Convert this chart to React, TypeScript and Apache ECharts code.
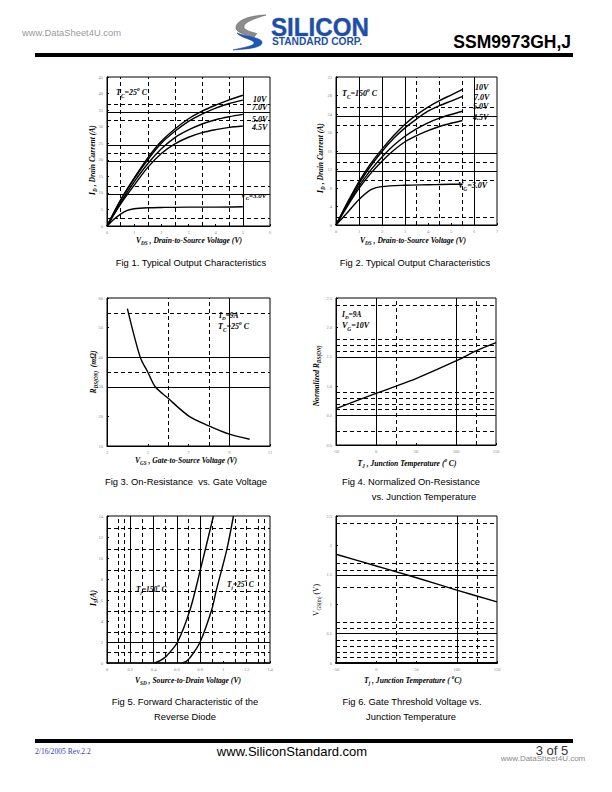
import React, { useEffect, useRef } from "react";
import * as echarts from "echarts";

// ---------- Fig 1 : Typical output characteristics, Tc = 25 C ----------
const fig1Vds = [0, 0.5, 1, 1.5, 2, 2.5, 3, 3.5, 4, 4.5, 5];
const fig1Id10V = [0, 7.9, 14.5, 20.6, 25.6, 29.3, 32.4, 34.7, 36.5, 38.1, 39.5];
const fig1Id7V = [0, 7.7, 14.2, 20.0, 25.0, 28.6, 31.6, 33.8, 35.6, 37.0, 38.0];
const fig1Id5V = [0, 7.0, 13.3, 18.8, 23.3, 26.7, 29.0, 30.8, 32.1, 33.0, 33.7];
const fig1Id45V = [0, 6.6, 12.3, 17.7, 21.9, 24.8, 26.8, 28.2, 29.1, 29.8, 30.2];
const fig1Vds3V = [0, 0.25, 0.5, 0.75, 1, 1.5, 2, 3, 4, 5];
const fig1Id3V = [0, 2.0, 3.6, 4.7, 5.2, 5.5, 5.6, 5.7, 5.7, 5.8];
const fig1SolidX = [5];
const fig1DashedX = [0.5, 1.5, 2.5, 3.5, 4.5];
const fig1SolidY = [9.6, 19.6, 24.5, 34.4];
const fig1DashedY = [2.2, 12.1, 21.9, 31.9, 36.7];

// ---------- Fig 2 : Typical output characteristics, Tc = 150 C ----------
const fig2Vds = [0, 0.5, 1, 1.5, 2, 2.5, 3, 3.5, 4, 4.5, 5, 5.5];
const fig2Id10V = [0, 4.9, 9.4, 13.2, 16.4, 19.3, 21.8, 23.8, 25.5, 26.9, 28.1, 29.3];
const fig2Id7V = [0, 4.7, 9.0, 12.7, 15.9, 18.7, 21.0, 22.9, 24.6, 25.8, 26.8, 27.8];
const fig2Id5V = [0, 4.4, 8.4, 11.8, 14.7, 17.2, 19.2, 20.8, 22.1, 23.1, 23.9, 24.6];
const fig2Id45V = [0, 4.1, 7.9, 11.1, 13.8, 16.1, 18.0, 19.3, 20.4, 21.3, 22.0, 22.6];
const fig2Vds3V = [0, 0.5, 1, 1.5, 2, 3, 4, 5, 5.5];
const fig2Id3V = [0, 2.7, 5.5, 7.6, 8.3, 8.6, 8.7, 8.8, 8.8];
const fig2SolidX = [1, 2, 3, 6];
const fig2DashedX = [3.5, 4.5, 5.5];
const fig2SolidY = [11.7, 15.6, 23.6];
const fig2DashedY = [1.7, 9.7, 13.6, 21.5, 25.5];

// ---------- Fig 3 : On-resistance vs gate voltage ----------
const fig3Vgs = [4, 4.63, 5, 5.37, 6, 7, 8, 9, 10];
const fig3Rds = [56.4, 40, 35, 30, 26.1, 20.2, 16.8, 14.0, 12.3];
const fig3SolidX = [9];
const fig3DashedX = [6, 8];
const fig3SolidY = [30, 40];
const fig3DashedY = [35, 55];

// ---------- Fig 4 : Normalized RDS(ON) vs junction temperature ----------
const fig4Tj = [-50, 0, 25, 50, 100, 125, 150];
const fig4Rn = [0.62, 0.877, 1.0, 1.13, 1.43, 1.6, 1.74];
const fig4SolidX = [0, 100];
const fig4DashedX = [25, 125];
const fig4SolidY = [0.5, 1.5];
const fig4DashedY = [0.23, 0.6, 0.7, 0.8, 0.9, 1.6, 1.7, 1.8, 2.38];

// ---------- Fig 5 : Forward characteristic of reverse diode ----------
const fig5Vsd150 = [0.41, 0.46, 0.514, 0.606, 0.714, 0.8, 0.914];
const fig5Is150 = [0, 0.25, 0.7, 2, 5.1, 8.8, 14];
const fig5Vsd25 = [0.643, 0.68, 0.72, 0.8, 0.9, 0.937, 1.03, 1.086];
const fig5Is25 = [0, 0.15, 0.6, 2, 5.1, 6.84, 10.85, 14];
const fig5SolidX = [0.2, 0.4, 0.6, 0.8];
const fig5DashedX = [0.1, 0.15, 0.3, 0.5, 0.7, 0.9, 1.1, 1.2, 1.3, 1.35];
const fig5SolidY = [2];
const fig5DashedY = [1, 2.9, 4.9, 6.85, 8.85, 10.85, 12.8];

// ---------- Fig 6 : Gate threshold voltage vs junction temperature ----------
const fig6Tj = [-50, 0, 25, 50, 100, 150];
const fig6Vth = [1.85, 1.65, 1.55, 1.45, 1.24, 1.04];
const fig6SolidX = [100];
const fig6DashedX = [25, 125];
const fig6SolidY = [0.5, 1.5];
const fig6DashedY = [0.1, 0.19, 0.28, 0.38, 0.59, 0.69, 1.28, 1.58, 1.69, 2.38];

// ---------- axes (min, max, interval) ----------
const fig1XAxis = [0, 6, 1];
const fig1YAxis = [0, 45, 5];
const fig2XAxis = [0, 7, 1];
const fig2YAxis = [0, 32, 4];
const fig3XAxis = [3, 11, 2];
const fig3YAxis = [10, 60, 10];
const fig4XAxis = [-50, 150, 50];
const fig4YAxis = [0, 2.5, 0.5];
const fig5XAxis = [0, 1.4, 0.2];
const fig5YAxis = [0, 14, 2];
const fig6XAxis = [-50, 150, 50];
const fig6YAxis = [0, 2.5, 0.5];

const SERIF = "Liberation Serif";
const SANS = "Liberation Sans";

const LOGO_GRAY =
  "M34 1 C22 1 5 5 4 13 C3 18 13 21 22 23 L25 19.5 C17 17.5 11 15.5 12 12 C13 8 24 4 34 1 Z";
const LOGO_BLUE =
  "M5 19 C14 23 31 23 30 29 C29 34 15 35 1 36 C12 33 23 32 22 28.5 C21 25.5 9 24 5 19 Z";

let shapesRegistered = false;
function registerShapes() {
  if (shapesRegistered) return;
  echarts.graphic.registerShape("logoGray", (echarts.graphic as any).extendPath(LOGO_GRAY, {}));
  echarts.graphic.registerShape("logoBlue", (echarts.graphic as any).extendPath(LOGO_BLUE, {}));
  shapesRegistered = true;
}

function pairs(xs: number[], ys: number[]) {
  return xs.map((x, i) => [x, ys[i]]);
}

function gridLines(sx: number[], dx: number[], sy: number[], dy: number[]) {
  const data: any[] = [];
  sx.forEach((v) => data.push({ xAxis: v, lineStyle: { type: "solid" } }));
  dx.forEach((v) => data.push({ xAxis: v, lineStyle: { type: [4, 3] } }));
  sy.forEach((v) => data.push({ yAxis: v, lineStyle: { type: "solid" } }));
  dy.forEach((v) => data.push({ yAxis: v, lineStyle: { type: [4, 3] } }));
  return {
    silent: true,
    symbol: ["none", "none"],
    label: { show: false },
    lineStyle: { color: "#000", width: 1 },
    emphasis: { disabled: true },
    data,
  };
}

function curve(idx: number, xs: number[], ys: number[], mark?: any, smooth: any = 0.3) {
  const s: any = {
    type: "line",
    xAxisIndex: idx,
    yAxisIndex: idx,
    data: pairs(xs, ys),
    smooth,
    showSymbol: false,
    symbol: "none",
    lineStyle: { color: "#000", width: 1.4 },
    z: 5,
  };
  if (mark) s.markLine = mark;
  return s;
}

function axis(idx: number, cfg: number[], fmt?: (v: number) => string, width = 1) {
  return {
    gridIndex: idx,
    type: "value",
    min: cfg[0],
    max: cfg[1],
    interval: cfg[2],
    axisLine: { show: true, onZero: false, lineStyle: { color: "#000", width } },
    axisTick: { show: true, inside: true, length: 2, lineStyle: { color: "#000" } },
    axisLabel: {
      fontSize: 4.5,
      color: "#888",
      margin: 4,
      fontFamily: SERIF,
      formatter: fmt,
    },
    splitLine: { show: false },
  };
}

function txt(text: string, x: number, y: number, size: number, o: any = {}) {
  const fam = o.family || SERIF;
  const weight = o.weight || "bold";
  const fstyle = o.italic === false ? "normal" : "italic";
  const fill = o.color || "#000";
  const lh = size * 1.5;
  return {
    type: "text",
    x,
    y,
    rotation: o.rot || 0,
    scaleX: o.scaleX || 1,
    silent: true,
    z: 20,
    style: {
      text,
      fill,
      fontSize: size,
      fontFamily: fam,
      fontWeight: weight,
      fontStyle: fstyle,
      align: o.align || "left",
      verticalAlign: "middle",
      lineHeight: lh,
      rich: {
        s: {
          fontSize: size * 0.68,
          fontFamily: fam,
          fontWeight: weight,
          fontStyle: fstyle,
          fill,
          verticalAlign: "bottom",
          lineHeight: lh,
        },
        p: {
          fontSize: size * 0.68,
          fontFamily: fam,
          fontWeight: weight,
          fontStyle: fstyle,
          fill,
          verticalAlign: "top",
          lineHeight: lh,
        },
      },
    },
  };
}

function caption(text: string, x: number, y: number) {
  return txt(text, x, y, 9.4, { family: SANS, weight: "normal", italic: false, align: "center" });
}

const AT = 7.6; // axis title size
const AN = 8; // annotation size

export default function App() {
  const ref = useRef<HTMLDivElement>(null);

  useEffect(() => {
    if (!ref.current) return;
    registerShapes();
    const chart = echarts.init(ref.current, null, { renderer: "svg" });

    const grids = [
      { left: 107, top: 77, width: 163, height: 149 },
      { left: 336, top: 77, width: 161, height: 148 },
      { left: 107, top: 298, width: 163, height: 148 },
      { left: 336, top: 298, width: 160, height: 147 },
      { left: 107, top: 516, width: 163, height: 147 },
      { left: 336, top: 516, width: 161, height: 147 },
    ].map((g) => ({
      ...g,
      show: true,
      borderColor: "#000",
      borderWidth: 1,
      backgroundColor: "transparent",
      containLabel: false,
      outerBoundsMode: "none",
    }));

    const fix1 = (v: number) => v.toFixed(1);

    const xAxis = [
      axis(0, fig1XAxis),
      axis(1, fig2XAxis),
      axis(2, fig3XAxis),
      axis(3, fig4XAxis),
      axis(4, fig5XAxis, (v: number) => String(Math.round(v * 10) / 10), 1.5),
      axis(5, fig6XAxis, undefined, 2),
    ];
    const yAxis = [
      axis(0, fig1YAxis),
      axis(1, fig2YAxis),
      axis(2, fig3YAxis),
      axis(3, fig4YAxis, fix1),
      axis(4, fig5YAxis),
      axis(5, fig6YAxis, (v: number) => String(Math.round(v * 10) / 10)),
    ];

    const series = [
      curve(0, fig1Vds, fig1Id10V, gridLines(fig1SolidX, fig1DashedX, fig1SolidY, fig1DashedY)),
      curve(0, fig1Vds, fig1Id7V),
      curve(0, fig1Vds, fig1Id5V),
      curve(0, fig1Vds, fig1Id45V),
      curve(0, fig1Vds3V, fig1Id3V),
      curve(1, fig2Vds, fig2Id10V, gridLines(fig2SolidX, fig2DashedX, fig2SolidY, fig2DashedY)),
      curve(1, fig2Vds, fig2Id7V),
      curve(1, fig2Vds, fig2Id5V),
      curve(1, fig2Vds, fig2Id45V),
      curve(1, fig2Vds3V, fig2Id3V),
      curve(2, fig3Vgs, fig3Rds, gridLines(fig3SolidX, fig3DashedX, fig3SolidY, fig3DashedY)),
      curve(3, fig4Tj, fig4Rn, gridLines(fig4SolidX, fig4DashedX, fig4SolidY, fig4DashedY)),
      curve(4, fig5Vsd150, fig5Is150, gridLines(fig5SolidX, fig5DashedX, fig5SolidY, fig5DashedY)),
      curve(4, fig5Vsd25, fig5Is25),
      curve(5, fig6Tj, fig6Vth, gridLines(fig6SolidX, fig6DashedX, fig6SolidY, fig6DashedY)),
    ];

    const graphic: any[] = [
      // header
      txt("www.DataSheet4U.com", 22, 32, 9.4, { family: SANS, weight: "normal", italic: false, color: "#9a9a9a" }),
      {
        type: "logoGray",
        x: 232,
        y: 14,
        silent: true,
        style: { fill: "#8c8c8c", stroke: "#5a5a5a", lineWidth: 0.5 },
      },
      {
        type: "logoBlue",
        x: 232,
        y: 14,
        silent: true,
        style: { fill: "#1d57b8", stroke: "#123f8c", lineWidth: 0.5 },
      },
      {
        type: "text",
        x: 271,
        y: 27,
        scaleX: 0.93,
        silent: true,
        style: {
          text: "SILICON",
          fill: "#1d4fa6",
          stroke: "#7d93c4",
          lineWidth: 0.6,
          fontSize: 26,
          fontFamily: SANS,
          fontWeight: "bold",
          align: "left",
          verticalAlign: "middle",
        },
      },
      txt("STANDARD CORP.", 272, 41, 10.2, { family: SANS, weight: "bold", italic: false, color: "#1d4fa6" }),
      txt("SSM9973GH,J", 571, 42, 17.5, { family: SANS, weight: "bold", italic: false, align: "right" }),
      { type: "rect", silent: true, shape: { x: 35, y: 53, width: 538, height: 4 }, style: { fill: "#000" } },

      // footer
      { type: "rect", silent: true, shape: { x: 35, y: 739, width: 538, height: 4 }, style: { fill: "#000" } },
      txt("2/16/2005 Rev.2.2", 35, 751, 7.6, { family: SERIF, weight: "normal", italic: false, color: "#3a3ab8" }),
      txt("www.SiliconStandard.com", 292, 751, 13, { family: SANS, weight: "normal", italic: false, align: "center" }),
      txt("3 of 5", 552, 750, 13, { family: SANS, weight: "normal", italic: false, align: "center", color: "#333" }),
      txt("www.DataSheet4U.com", 543, 758, 8, { family: SANS, weight: "normal", italic: false, align: "center", color: "#8a8a8a" }),

      // captions
      caption("Fig 1. Typical Output Characteristics", 191, 262),
      caption("Fig 2. Typical Output Characteristics", 415, 262),
      caption("Fig 3. On-Resistance  vs. Gate Voltage", 186, 481),
      caption("Fig 4. Normalized On-Resistance", 411, 481),
      caption("vs. Junction Temperature", 424, 496),
      caption("Fig 5. Forward Characteristic of the", 185, 701),
      caption("Reverse Diode", 185, 716),
      caption("Fig 6. Gate Threshold Voltage vs.", 412, 701),
      caption("Junction Temperature", 411, 716),

      // axis titles
      txt("V{s|DS} , Drain-to-Source Voltage (V)", 189, 240, AT, { align: "center" }),
      txt("I{s|D} , Drain Current (A)", 92, 160, AT, { align: "center", rot: Math.PI / 2 }),
      txt("V{s|DS} , Drain-to-Source Voltage (V)", 413, 240, AT, { align: "center" }),
      txt("I{s|D} , Drain Current (A)", 320, 158, AT, { align: "center", rot: Math.PI / 2 }),
      txt("V{s|GS} , Gate-to-Source Voltage (V)", 186, 460, AT, { align: "center" }),
      txt("R{s|DS(ON)}  (m\u03a9)", 93, 372, AT, { align: "center", rot: Math.PI / 2 }),
      txt("T{s|J} , Junction Temperature ({p|o} C)", 407, 463, AT, { align: "center" }),
      txt("Normalized R{s|DS(ON)}", 316, 376, AT, { align: "center", rot: Math.PI / 2 }),
      txt("V{s|SD} , Source-to-Drain Voltage (V)", 188, 680, AT, { align: "center" }),
      txt("I{s|S}(A)", 93, 598, AT, { align: "center", rot: Math.PI / 2 }),
      txt("T{s|j} , Junction Temperature ( {p|o}C)", 413, 680, AT, { align: "center" }),
      txt("V{s|GS(th)} (V)", 316, 600, AT, { align: "center", rot: Math.PI / 2, weight: "normal", italic: false }),

      // in-plot annotations
      txt("T{s|C}=25{p|o} C", 116, 92, AN),
      txt("10V", 253, 99, AN),
      txt("7.0V", 252, 107, AN),
      txt("5.0V", 252, 119, AN),
      txt("4.5V", 252, 127, AN),
      txt("V{s|G}=3.0V", 241, 196, 7),
      txt("T{s|C}=150{p|o} C", 342, 93, AN),
      txt("10V", 475, 87, AN),
      txt("7.0V", 474, 97, AN),
      txt("5.0V", 473, 106, AN),
      txt("4.5V", 473, 117, AN),
      txt("V{s|G}=3.0V", 458, 185, AN),
      txt("I{s|D}=9A", 219, 315, 7.4),
      txt("T{s|C}=25{p|o} C", 218, 326, AN),
      txt("I{s|D}=9A", 342, 314, 7.4),
      txt("V{s|G}=10V", 342, 325, AN),
      txt("T{s|j}=150{p|o} C", 136, 589, 7.4),
      txt("T{s|j}=25{p|o} C", 227, 584, 7.4),
    ];

    chart.setOption({
      animation: false,
      backgroundColor: "#fff",
      grid: grids,
      xAxis,
      yAxis,
      series,
      graphic,
    });

    return () => chart.dispose();
  }, []);

  return (
    <div
      ref={ref}
      style={{ position: "absolute", left: 0, top: 0, width: 612, height: 792, background: "#fff" }}
    />
  );
}
